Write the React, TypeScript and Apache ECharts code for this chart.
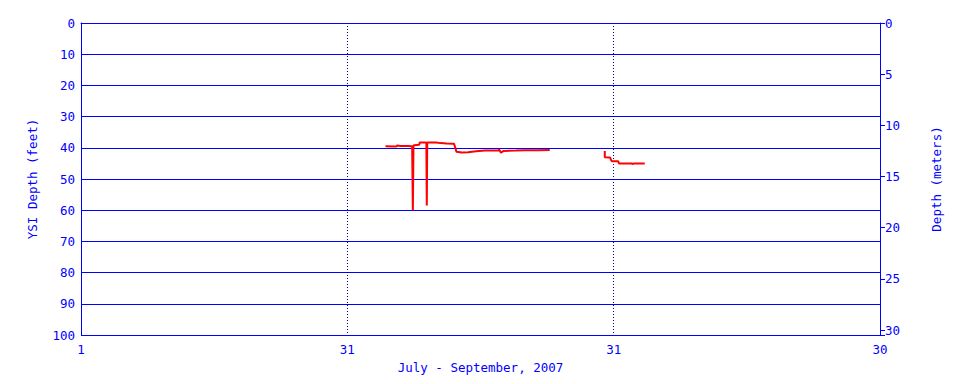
import React, { useEffect, useRef } from "react";
import * as echarts from "echarts";

// Day offset from July 1, 2007 (0..90) and YSI depth in feet
const dayOffsets: (number | null)[] = [
  34.3, 35.5, 35.6, 36.0, 36.8, 37.3, 37.38, 37.45, 37.5, 38.1, 38.15, 38.9, 38.95, 39.0, 40.0, 40.5, 41.2, 42.0, 42.1, 42.3, 42.9, 43.6, 44.5, 45.5, 47.0, 47.1, 47.3, 47.6, 49.0, 50.0, 51.5, 52.8,
  null,
  59.0, 59.0, 59.6, 59.7, 59.8, 60.5, 60.6, 62.0, 62.1, 62.3, 63.5,
];
const depthFeet: (number | null)[] = [
  39.5, 39.6, 39.3, 39.4, 39.4, 39.5, 60.0, 39.4, 39.2, 39.0, 38.3, 38.3, 58.5, 38.3, 38.3, 38.5, 38.6, 38.7, 39.4, 41.3, 41.5, 41.4, 41.1, 40.9, 40.9, 40.5, 41.6, 41.0, 40.9, 40.8, 40.8, 40.7,
  null,
  41.0, 43.0, 43.1, 43.9, 44.3, 44.3, 45.0, 45.0, 45.2, 45.0, 45.0,
];

const xTickLabels: Record<number, string> = { 0: "1", 30: "31", 60: "31", 90: "30" };
const xAxisTitle = "July - September, 2007";
const leftAxisTitle = "YSI Depth (feet)";
const rightAxisTitle = "Depth (meters)";

const BLUE = "#0000ff";
const FONT = "DejaVu Sans Mono";
const FS = 12.5;

export default function App() {
  const ref = useRef<HTMLDivElement>(null);
  useEffect(() => {
    if (!ref.current) return;
    const chart = echarts.init(ref.current, undefined, { renderer: "svg" });
    const data = dayOffsets.map((d, i) =>
      d === null || depthFeet[i] === null ? [null, null] : [d, depthFeet[i]]
    );
    chart.setOption({
      animation: false,
      backgroundColor: "#ffffff",
      grid: { left: 81, right: 80, top: 23, bottom: 49, containLabel: false },
      xAxis: {
        type: "value",
        min: 0,
        max: 90,
        interval: 30,
        name: xAxisTitle,
        nameLocation: "middle",
        nameGap: 23,
        nameTextStyle: { color: BLUE, fontFamily: FONT, fontSize: FS },
        axisLine: { lineStyle: { color: BLUE, width: 1 } },
        axisTick: { show: false },
        axisLabel: {
          color: BLUE,
          fontFamily: FONT,
          fontSize: FS,
          margin: 8,
          formatter: (v: number) => xTickLabels[v] ?? "",
        },
        splitLine: { show: true, lineStyle: { color: "#000080", type: [1, 2], width: 1 } },
      },
      yAxis: [
        {
          type: "value",
          inverse: true,
          min: 0,
          max: 100,
          interval: 10,
          position: "left",
          name: leftAxisTitle,
          nameLocation: "middle",
          nameGap: 42,
          nameTextStyle: { color: BLUE, fontFamily: FONT, fontSize: FS },
          axisLine: { show: true, lineStyle: { color: BLUE, width: 1 } },
          axisTick: { show: false },
          axisLabel: { color: BLUE, fontFamily: FONT, fontSize: FS, margin: 6 },
          splitLine: { show: true, lineStyle: { color: BLUE, width: 1 } },
        },
        {
          type: "value",
          inverse: true,
          min: 0,
          max: 30.48,
          interval: 5,
          position: "right",
          name: rightAxisTitle,
          nameLocation: "middle",
          nameGap: 50,
          nameTextStyle: { color: BLUE, fontFamily: FONT, fontSize: FS },
          axisLine: { show: true, lineStyle: { color: BLUE, width: 1 } },
          axisTick: { show: true, length: 5, lineStyle: { color: BLUE } },
          axisLabel: {
            color: BLUE,
            fontFamily: FONT,
            fontSize: FS,
            margin: 5,
            formatter: (v: number) => (Math.abs(v % 5) < 1e-6 ? String(v) : ""),
          },
          splitLine: { show: false },
        },
      ],
      series: [
        {
          type: "line",
          yAxisIndex: 0,
          data,
          connectNulls: false,
          showSymbol: false,
          symbol: "none",
          lineStyle: { color: "#ff0000", width: 2 },
        },
      ],
    });
    return () => chart.dispose();
  }, []);
  return (
    <div
      ref={ref}
      style={{ position: "fixed", left: 0, top: 0, width: 960, height: 384 }}
    />
  );
}
